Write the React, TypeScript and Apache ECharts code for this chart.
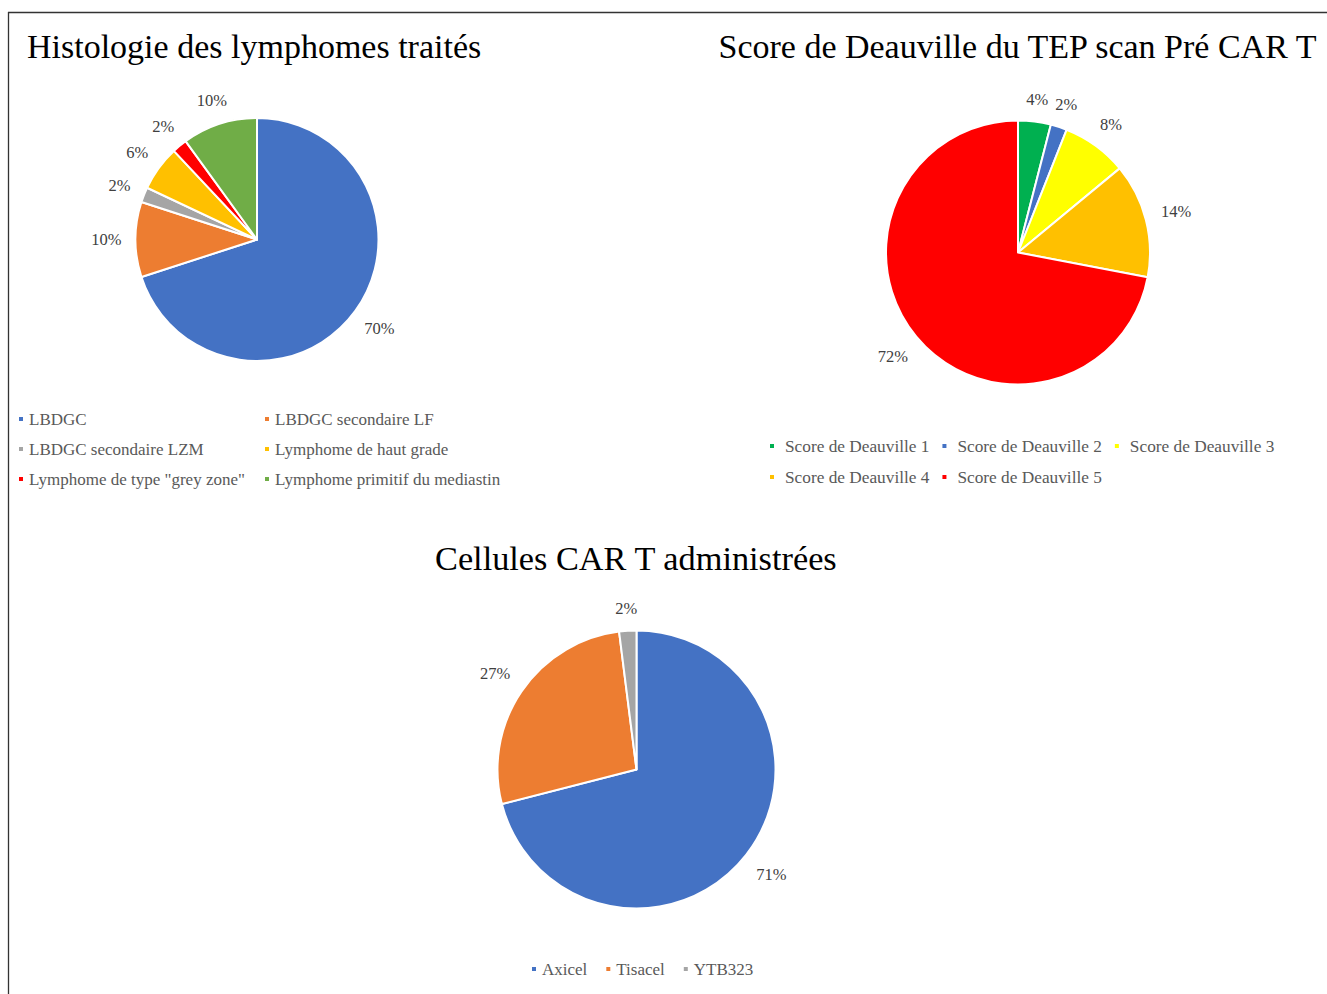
import React, { useEffect, useRef } from "react";
import * as echarts from "echarts";

const SERIF = '"Liberation Serif", "Times New Roman", serif';

const histoNames = [
  "LBDGC",
  "LBDGC secondaire LF",
  "LBDGC secondaire LZM",
  "Lymphome de haut grade",
  'Lymphome de type "grey zone"',
  "Lymphome primitif du mediastin",
];
const histoValues = [70, 10, 2, 6, 2, 10];
const histoColors = ["#4472C4", "#ED7D31", "#A5A5A5", "#FFC000", "#FF0000", "#70AD47"];

const dvNames = [
  "Score de Deauville 1",
  "Score de Deauville 2",
  "Score de Deauville 3",
  "Score de Deauville 4",
  "Score de Deauville 5",
];
const dvValues = [4, 2, 8, 14, 72];
const dvColors = ["#00B050", "#4472C4", "#FFFF00", "#FFC000", "#FF0000"];

const carNames = ["Axicel", "Tisacel", "YTB323"];
const carValues = [71, 27, 2];
const carColors = ["#4472C4", "#ED7D31", "#A5A5A5"];

const titles = [
  "Histologie des lymphomes traités",
  "Score de Deauville du TEP scan Pré CAR T",
  "Cellules CAR T administrées",
];

function makePie(
  names: string[],
  values: number[],
  colors: string[],
  cx: number,
  cy: number,
  r: number,
  gap: number
) {
  const total = values.reduce((a, b) => a + b, 0);
  return {
    type: "pie",
    center: [cx, cy],
    radius: r,
    startAngle: 90,
    clockwise: true,
    silent: true,
    emphasis: { disabled: true },
    data: names.map((n, i) => ({ name: n, value: values[i], itemStyle: { color: colors[i] } })),
    itemStyle: { borderColor: "#ffffff", borderWidth: 2 },
    label: {
      show: true,
      position: "outside",
      formatter: (p: any) => Math.round(p.percent) + "%",
      fontFamily: SERIF,
      fontSize: 16.5,
      color: "#404040",
    },
    labelLine: { show: false },
    labelLayout: (p: any) => {
      let before = 0;
      for (let k = 0; k < p.dataIndex; k++) before += values[k];
      const mid = ((before + values[p.dataIndex] / 2) / total) * 2 * Math.PI;
      const s = Math.sin(mid);
      const c = -Math.cos(mid);
      const w = p.labelRect ? p.labelRect.width : 30;
      const h = p.labelRect ? p.labelRect.height : 16;
      const d = r + gap + Math.abs(s) * (w / 2) + Math.abs(c) * (h / 2) * 0.7;
      return {
        x: cx + d * s,
        y: cy + d * c,
        align: "center",
        verticalAlign: "middle",
      };
    },
  };
}

const legendText = { fontFamily: SERIF, fontSize: 17, color: "#595959" };

export default function App() {
  const ref = useRef<HTMLDivElement>(null);
  useEffect(() => {
    if (!ref.current) return;
    const chart = echarts.init(ref.current, undefined, { renderer: "svg" });
    chart.setOption({
      animation: false,
      backgroundColor: "#ffffff",
      title: [
        {
          text: titles[0],
          left: 27,
          top: 29,
          padding: 0,
          textStyle: { fontFamily: SERIF, fontSize: 34, fontWeight: "normal", color: "#000000" },
        },
        {
          text: titles[1],
          right: 8,
          top: 29,
          padding: 0,
          textStyle: { fontFamily: SERIF, fontSize: 34, fontWeight: "normal", color: "#000000" },
        },
        {
          text: titles[2],
          left: 435,
          top: 541,
          padding: 0,
          textStyle: { fontFamily: SERIF, fontSize: 34.3, fontWeight: "normal", color: "#000000" },
        },
      ],
      legend: [
        {
          data: [histoNames[0], histoNames[2], histoNames[4]],
          orient: "vertical",
          left: 17,
          top: 410,
          padding: 0,
          itemWidth: 6,
          itemHeight: 6,
          itemGap: 12,
          icon: "rect",
          selectedMode: false,
          textStyle: { ...legendText, lineHeight: 18 },
        },
        {
          data: [histoNames[1], histoNames[3], histoNames[5]],
          orient: "vertical",
          left: 263,
          top: 410,
          padding: 0,
          itemWidth: 6,
          itemHeight: 6,
          itemGap: 12,
          icon: "rect",
          selectedMode: false,
          textStyle: { ...legendText, lineHeight: 18 },
        },
        {
          data: dvNames,
          orient: "horizontal",
          left: 768,
          top: 436,
          width: 520,
          padding: 0,
          itemWidth: 6,
          itemHeight: 6,
          itemGap: 11,
          icon: "rect",
          selectedMode: false,
          textStyle: { ...legendText, fontSize: 17.3, lineHeight: 20, padding: [0, 0, 0, 5] },
        },
        {
          data: carNames,
          orient: "horizontal",
          left: 530,
          top: 960,
          padding: 0,
          itemWidth: 6,
          itemHeight: 6,
          itemGap: 17,
          icon: "rect",
          selectedMode: false,
          textStyle: { ...legendText, lineHeight: 18 },
        },
      ],
      graphic: [
        {
          type: "line",
          shape: { x1: 8, y1: 12.5, x2: 1327, y2: 12.5 },
          style: { stroke: "#333333", lineWidth: 1.3 },
        },
        {
          type: "line",
          shape: { x1: 8.5, y1: 12, x2: 8.5, y2: 994 },
          style: { stroke: "#333333", lineWidth: 1.3 },
        },
      ],
      series: [
        makePie(histoNames, histoValues, histoColors, 257, 239.5, 121.5, 14),
        makePie(dvNames, dvValues, dvColors, 1018, 252.5, 132, 15),
        makePie(carNames, carValues, carColors, 636.5, 769.5, 139, 16),
      ],
    });
    return () => chart.dispose();
  }, []);
  return (
    <div
      ref={ref}
      style={{ position: "fixed", left: 0, top: 0, width: 1327, height: 994, background: "#fff" }}
    />
  );
}
